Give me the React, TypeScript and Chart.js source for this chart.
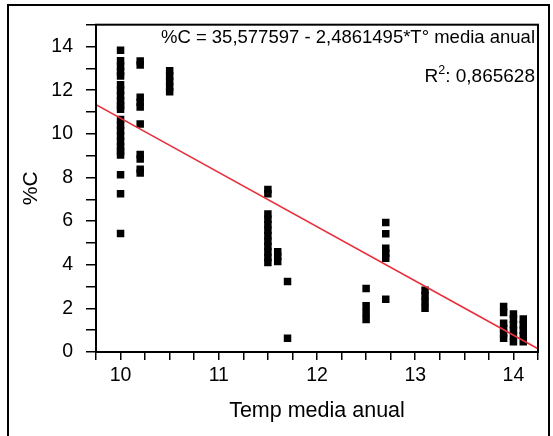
import React, { useEffect, useRef } from 'react';
import { Chart, registerables } from 'chart.js';

Chart.register(...registerables);

// Temperature groups (x) and %C readings (y) per group
const temps = [10.0, 10.2, 10.5, 11.5, 11.6, 11.7, 12.5, 12.7, 13.1, 13.9, 14.0, 14.1];
const carbonT100 = [13.83, 13.35, 13.1, 12.85, 12.65, 12.25, 12.0, 11.75, 11.5, 11.3, 11.13, 10.65, 10.4, 10.15, 9.9, 9.65, 9.4, 9.2, 9.03, 8.12, 7.25, 5.43];
const carbonT102 = [13.34, 13.15, 11.67, 11.45, 11.23, 10.45, 9.05, 8.84, 8.37, 8.2];
const carbonT105 = [12.89, 12.65, 12.4, 12.15, 11.93];
const carbonT115 = [7.45, 7.25, 6.33, 6.08, 5.83, 5.58, 5.33, 5.08, 4.83, 4.58, 4.33, 4.1];
const carbonT116 = [4.6, 4.38, 4.15];
const carbonT117 = [3.23, 0.63];
const carbonT125 = [2.91, 2.12, 1.8, 1.49];
const carbonT127 = [5.93, 5.42, 4.75, 4.52, 4.3, 2.42];
const carbonT131 = [2.83, 2.58, 2.3, 2.0];
const carbonT139 = [2.09, 1.81, 1.32, 1.08, 0.85, 0.63];
const carbonT140 = [1.74, 1.5, 1.25, 1.0, 0.75, 0.47];
const carbonT141 = [1.51, 1.25, 1.0, 0.75, 0.47];
const carbonByTemp = [carbonT100, carbonT102, carbonT105, carbonT115, carbonT116, carbonT117, carbonT125, carbonT127, carbonT131, carbonT139, carbonT140, carbonT141];

// Regression
const intercept = 35.577597;
const slope = -2.4861495;
const r2Text = '0,865628';

// Axes
const xMin = 9.75;
const xMax = 14.25;
const yMin = 0;
const yMax = 15;
const xTickLabels = ['10', '11', '12', '13', '14'];
const yTickLabels = ['0', '2', '4', '6', '8', '10', '12', '14'];

const FONT = '"Liberation Sans", Arial, sans-serif';

export default function App() {
  const ref = useRef<HTMLCanvasElement | null>(null);

  useEffect(() => {
    if (!ref.current) return;
    const points: { x: number; y: number }[] = [];
    temps.forEach((t, i) => carbonByTemp[i].forEach((c) => points.push({ x: t, y: c })));
    const fit = [
      { x: xMin, y: intercept + slope * xMin },
      { x: xMax, y: intercept + slope * xMax },
    ];
    const eqText = `%C = ${String(intercept).replace('.', ',')} - ${String(-slope).replace('.', ',')}*T° media anual`;

    const annot = {
      id: 'annot',
      beforeDraw(chart: any) {
        const ctx = chart.ctx;
        ctx.save();
        ctx.fillStyle = '#fff';
        ctx.fillRect(0, 0, chart.width, chart.height);
        ctx.strokeStyle = '#000';
        ctx.lineWidth = 2;
        ctx.strokeRect(8, 5, 541, 600);
        ctx.restore();
      },
      afterDatasetsDraw(chart: any) {
        const { ctx, chartArea } = chart;
        const { left, right, top, bottom } = chartArea;
        ctx.save();
        ctx.strokeStyle = '#000';
        ctx.lineWidth = 2;
        ctx.strokeRect(left, top, right - left, bottom - top);
        ctx.fillStyle = '#000';
        ctx.textAlign = 'right';
        ctx.textBaseline = 'alphabetic';
        ctx.font = `18.5px ${FONT}`;
        const xr = right - 3;
        ctx.fillText(eqText, xr, 43);
        ctx.font = `19px ${FONT}`;
        const rest = ': ' + r2Text;
        const wRest = ctx.measureText(rest).width;
        ctx.fillText(rest, xr, 82);
        ctx.font = `12.5px ${FONT}`;
        const wSup = ctx.measureText('2').width;
        ctx.fillText('2', xr - wRest, 74);
        ctx.font = `19px ${FONT}`;
        ctx.fillText('R', xr - wRest - wSup, 82);
        ctx.restore();
      },
    };

    const chart = new Chart(ref.current, {
      type: 'scatter',
      data: {
        datasets: [
          {
            data: fit,
            showLine: true,
            borderColor: '#e8303c',
            borderWidth: 1.5,
            pointRadius: 0,
            order: 0,
          } as any,
          {
            data: points,
            pointStyle: 'rect',
            pointRadius: 5.3,
            pointBorderWidth: 0,
            borderWidth: 0,
            backgroundColor: '#000',
            borderColor: '#000',
            order: 1,
          } as any,
        ],
      },
      options: {
        animation: false,
        responsive: false,
        events: [],
        layout: { padding: { left: 0, right: 15, top: 22, bottom: 0 } },
        plugins: { legend: { display: false }, tooltip: { enabled: false } },
        scales: {
          x: {
            type: 'linear',
            min: xMin,
            max: xMax,
            afterFit: (s: any) => { s.height = 84; },
            ticks: {
              stepSize: 0.25,
              autoSkip: false,
              maxRotation: 0,
              padding: 4,
              color: '#000',
              font: { family: FONT, size: 19.5 },
              callback: (v: any) => {
                const n = Number(v);
                const r = Math.round(n);
                return Math.abs(n - r) < 1e-6 && xTickLabels.includes(String(r)) ? String(r) : '';
              },
            },
            grid: { drawOnChartArea: false, drawTicks: true, tickLength: 8, color: '#000', lineWidth: 1.5 },
            border: { display: true, color: '#000', width: 2 },
            title: {
              display: true,
              text: 'Temp media anual',
              color: '#000',
              font: { family: FONT, size: 21.5 },
              padding: { top: 0, bottom: 12 },
            },
          },
          y: {
            type: 'linear',
            min: yMin,
            max: yMax,
            afterFit: (s: any) => { s.width = 96; },
            ticks: {
              stepSize: 1,
              autoSkip: false,
              padding: 13,
              color: '#000',
              font: { family: FONT, size: 19.5 },
              callback: (v: any) => {
                const n = Math.round(Number(v));
                return yTickLabels.includes(String(n)) ? String(n) : '';
              },
            },
            grid: { drawOnChartArea: false, drawTicks: true, tickLength: 10, color: '#000', lineWidth: 1.5 },
            border: { display: true, color: '#000', width: 2 },
            title: {
              display: true,
              text: '%C',
              color: '#000',
              font: { family: FONT, size: 21 },
              padding: { top: 19, bottom: 0 },
            },
          },
        },
      },
      plugins: [annot],
    } as any);
    return () => chart.destroy();
  }, []);

  return (
    <div style={{ position: 'fixed', left: 0, top: 0, width: 553, height: 436, background: '#fff' }}>
      <canvas ref={ref} width={553} height={436} style={{ display: 'block', width: 553, height: 436 }} />
    </div>
  );
}
